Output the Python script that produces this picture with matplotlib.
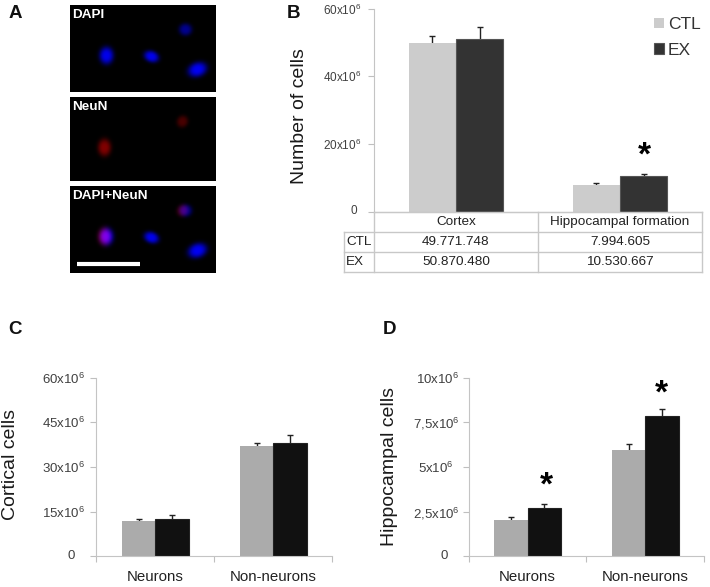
#!/usr/bin/env python3
"""Cell counts figure: DAPI/NeuN micrographs (A) and three bar charts (B, C, D)."""

import matplotlib

matplotlib.use("Agg")
import matplotlib.pyplot as plt
import numpy as np
from matplotlib.transforms import ScaledTranslation

plt.rcParams["font.family"] = ["Liberation Sans", "DejaVu Sans"]
plt.rcParams["mathtext.default"] = "regular"

W, H = 710, 587

# Panel B, values in millions
B_CATEGORIES = ["Cortex", "Hippocampal formation"]
B_CTL = [49.771748, 7.994605]
B_EX = [50.870480, 10.530667]
B_CTL_ERR = [2.1, 0.4]
B_EX_ERR = [3.6, 0.5]
B_TICKS = [0, 20, 40, 60]
B_TICK_LABELS = ["0", "20x10$^{6}$", "40x10$^{6}$", "60x10$^{6}$"]
B_TABLE_CTL = ["49.771.748", "7.994.605"]
B_TABLE_EX = ["50.870.480", "10.530.667"]

# Panel C
C_CATEGORIES = ["Neurons", "Non-neurons"]
C_CTL = [12.0, 37.05]
C_EX = [12.65, 37.95]
C_CTL_ERR = [0.4, 0.9]
C_EX_ERR = [1.25, 2.9]
C_TICKS = [0, 15, 30, 45, 60]
C_TICK_LABELS = ["0", "15x10$^{6}$", "30x10$^{6}$", "45x10$^{6}$", "60x10$^{6}$"]

# Panel D
D_CATEGORIES = ["Neurons", "Non-neurons"]
D_CTL = [2.03, 5.93]
D_EX = [2.69, 7.84]
D_CTL_ERR = [0.19, 0.34]
D_EX_ERR = [0.22, 0.41]
D_TICKS = [0, 2.5, 5, 7.5, 10]
D_TICK_LABELS = ["0", "2,5x10$^{6}$", "5x10$^{6}$", "7,5x10$^{6}$", "10x10$^{6}$"]

# Nuclei in panel A: x, y (pixels inside a micrograph), rx, ry, angle, intensity
DAPI_NUCLEI = [
    (36, 50, 7, 8.5, 0, 0.92),
    (81, 51, 7.5, 5.5, -20, 0.92),
    (115, 24, 6.5, 6, 0, 0.55),
    (127, 64, 9.5, 7, 20, 0.95),
]
NEUN_NUCLEI = [
    (34, 50, 6.5, 8.5, 0, 0.5),
    (112, 24, 5.5, 6, -30, 0.28),
]
MICROGRAPHS = [("DAPI", 5, 92), ("NeuN", 97, 181), ("DAPI+NeuN", 186, 273)]


def px_axes(fig, left, top, right, bottom):
    return fig.add_axes(
        [left / W, 1 - bottom / H, (right - left) / W, (bottom - top) / H]
    )


def nuclei_layer(nuclei, w, h):
    yy, xx = np.mgrid[0:h, 0:w]
    layer = np.zeros((h, w))
    for cx, cy, rx, ry, angle, level in nuclei:
        t = np.radians(angle)
        dx = (xx - cx) * np.cos(t) - (yy - cy) * np.sin(t)
        dy = (xx - cx) * np.sin(t) + (yy - cy) * np.cos(t)
        layer += level * np.exp(-(((dx / rx) ** 2 + (dy / ry) ** 2) ** 1.5))
    return np.clip(layer, 0, 1)


def draw_micrograph(fig, label, top, bottom, red, blue):
    ax = px_axes(fig, 70, top, 216, bottom)
    w, h = 146, bottom - top
    img = np.zeros((h, w, 3))
    img[..., 0] = nuclei_layer(red, w, h)
    img[..., 2] = nuclei_layer(blue, w, h)
    ax.imshow(img, extent=(0, w, h, 0), aspect="auto", interpolation="bilinear")
    ax.set_axis_off()
    ax.text(2, 10, label, color="white", fontsize=9.7, fontweight="bold", va="center")
    return ax


def draw_bars(ax, ctl, ex, ctl_err, ex_err, colors, edge, width):
    x = np.arange(len(ctl)) + 0.5
    ax.bar(x - width / 2, ctl, width, color=colors[0], label="CTL", zorder=2)
    ax.bar(x + width / 2, ex, width, color=colors[1], edgecolor=edge,
           linewidth=0.8, label="EX", zorder=2)
    for xs, vals, errs in [(x - width / 2, ctl, ctl_err), (x + width / 2, ex, ex_err)]:
        tops = np.array(vals) + np.array(errs)
        ax.vlines(xs, vals, tops, color="#222222", linewidth=1, zorder=1)
        ax.plot(xs, tops, "_", color="#222222", markersize=4.5, markeredgewidth=1, zorder=1)


def style_axes(ax, ymax, ticks, tick_labels, size, pad, shifts):
    ax.set_xlim(0, 2)
    ax.set_ylim(0, ymax)
    ax.set_yticks(ticks)
    ax.set_yticklabels(tick_labels, fontsize=size, color="#404040")
    ax.tick_params(axis="both", length=4, width=0.8, color="#bfbfbf", pad=pad)
    ax.spines["top"].set_visible(False)
    ax.spines["right"].set_visible(False)
    ax.spines["left"].set_color("#c4c4c4")
    ax.spines["bottom"].set_color("#c4c4c4")
    ax.patch.set_alpha(0)
    # the original's labels are not flush right, nudge them (pixels)
    for label, (dx, dy) in zip(ax.get_yticklabels(), shifts):
        label.set_transform(
            label.get_transform()
            + ScaledTranslation(dx / 100, dy / 100, ax.figure.dpi_scale_trans)
        )


def main():
    fig = plt.figure(figsize=(W / 100, H / 100), dpi=100)

    # overlay in pixel coordinates for panel letters, table and asterisks
    over = fig.add_axes([0, 0, 1, 1], zorder=5)
    over.set_xlim(0, W)
    over.set_ylim(H, 0)
    over.set_axis_off()

    # A
    for label, top, bottom in MICROGRAPHS:
        red = NEUN_NUCLEI if "NeuN" in label else []
        blue = DAPI_NUCLEI if "DAPI" in label else []
        draw_micrograph(fig, label, top, bottom, red, blue)
    over.plot([77, 139.5], [264, 264], color="white", linewidth=3, solid_capstyle="butt")

    # B
    ax_b = px_axes(fig, 374, 8.5, 702, 211.7)
    draw_bars(ax_b, B_CTL, B_EX, B_CTL_ERR, B_EX_ERR, ("#cccccc", "#333333"), "#555555", 0.287)
    style_axes(ax_b, 60, B_TICKS, B_TICK_LABELS, 8.5, 5,
               [(-4, 2), (0, 0), (0, 0), (0, 0)])
    ax_b.set_xticks([])
    over.text(299, 116, "Number of cells", rotation=90, fontsize=14, ha="center",
              va="center", color="#1a1a1a")
    ax_b.legend(loc="upper left", bbox_to_anchor=((644.4 - 374) / 328, 1.005), frameon=False,
                fontsize=12.5, handlelength=0.58, handleheight=0.58, handletextpad=0.22,
                labelspacing=0.62, labelcolor="#333333", borderaxespad=0, borderpad=0.55)

    # table under B
    grid = "#c8c8c8"
    for y in [232, 252, 272]:
        over.plot([344, 702], [y, y], color=grid, linewidth=1)
    over.plot([374, 702], [212, 212], color=grid, linewidth=1)
    over.plot([344, 344], [232, 272], color=grid, linewidth=1)
    for x in [374, 538, 702]:
        over.plot([x, x], [212, 272], color=grid, linewidth=1)
    for i, name in enumerate(B_CATEGORIES):
        xc = 456 + 164 * i
        over.text(xc, 222, name, fontsize=9.7, ha="center", va="center", color="#222222")
        over.text(xc, 242, B_TABLE_CTL[i], fontsize=9.7, ha="center", va="center", color="#222222")
        over.text(xc, 262, B_TABLE_EX[i], fontsize=9.7, ha="center", va="center", color="#222222")
    over.text(346, 242, "CTL", fontsize=9.7, va="center", color="#222222")
    over.text(346, 262, "EX", fontsize=9.7, va="center", color="#222222")

    # C
    ax_c = px_axes(fig, 96.3, 377.7, 332.3, 556.3)
    draw_bars(ax_c, C_CTL, C_EX, C_CTL_ERR, C_EX_ERR, ("#ababab", "#111111"), "#222222", 0.284)
    ax_c.set_xticks([0, 1, 2])
    ax_c.set_xticklabels([])
    style_axes(ax_c, 60, C_TICKS, C_TICK_LABELS, 9.5, 4.2,
               [(-10, 2), (0, 0), (0, 0), (0, 0), (0, 0)])
    over.text(11, 465, "Cortical cells", rotation=90, fontsize=14, ha="center",
              va="center", color="#1a1a1a")

    # D
    ax_d = px_axes(fig, 468.7, 377.7, 704.3, 556.3)
    draw_bars(ax_d, D_CTL, D_EX, D_CTL_ERR, D_EX_ERR, ("#ababab", "#111111"), "#222222", 0.284)
    ax_d.set_xticks([0, 1, 2])
    ax_d.set_xticklabels([])
    style_axes(ax_d, 10, D_TICKS, D_TICK_LABELS, 9.5, 2.8,
               [(-11, 2), (0, 0), (-6, 0), (0, 0), (0, 0)])
    over.text(389, 466, "Hippocampal cells", rotation=90, fontsize=14, ha="center",
              va="center", color="#1a1a1a")

    for i, name in enumerate(C_CATEGORIES):
        over.text(155 + 118 * i, 577, name, fontsize=10.8, ha="center", va="center", color="#222222")
    for i, name in enumerate(D_CATEGORIES):
        over.text(527 + 118 * i, 577, name, fontsize=10.8, ha="center", va="center", color="#222222")

    # significance marks
    for x, y in [(644, 156), (546, 486), (661, 394)]:
        over.text(x, y, "*", fontsize=24, fontweight="bold", ha="center", va="center", color="black")

    # panel letters
    for letter, x, y in [("A", 15, 14), ("B", 293, 14), ("C", 15, 330), ("D", 390, 330)]:
        over.text(x, y, letter, fontsize=13.5, fontweight="bold", ha="center", va="center", color="#111111")

    fig.savefig("out.png", dpi=100)
    plt.close(fig)


if __name__ == "__main__":
    main()
